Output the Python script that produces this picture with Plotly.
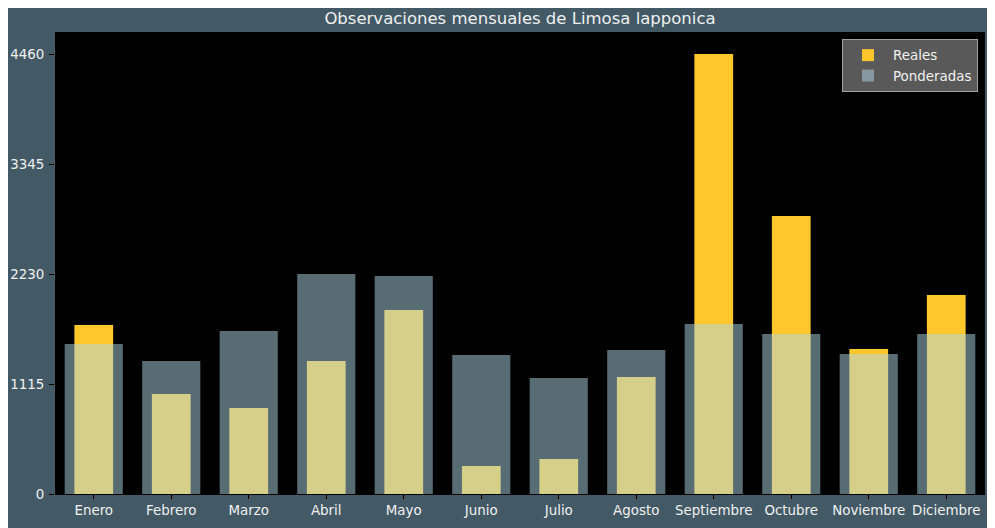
import plotly.graph_objects as go

meses = ["Enero", "Febrero", "Marzo", "Abril", "Mayo", "Junio", "Julio",
         "Agosto", "Septiembre", "Octubre", "Noviembre", "Diciembre"]
reales = [1713, 1014, 872, 1348, 1865, 284, 355, 1186, 4460, 2818, 1470, 2017]
ponderadas = [1521, 1348, 1652, 2230, 2210, 1409, 1176, 1460, 1723, 1622, 1419, 1622]
ticks_y = [0, 1115, 2230, 3345, 4460]

fig = go.Figure()
fig.add_trace(go.Bar(x=meses, y=reales, name="Reales", width=0.5,
                     marker=dict(color="#ffc72c", line=dict(width=0))))
fig.add_trace(go.Bar(x=meses, y=ponderadas, name="Ponderadas", width=0.75,
                     marker=dict(color="rgba(173,216,230,0.5)", line=dict(width=0))))

fig.update_layout(
    width=987, height=520,
    barmode="overlay",
    paper_bgcolor="#435a66",
    plot_bgcolor="#000000",
    margin=dict(l=47, r=10, t=24, b=34, autoexpand=False),
    font=dict(family="DejaVu Sans", size=13.4, color="#f0f0f0"),
    title=dict(text="Observaciones mensuales de Limosa lapponica",
               xref="paper", x=0.5, xanchor="center", y=0.98, yanchor="middle",
               font=dict(size=16.5, color="#f0f0f0")),
    legend=dict(x=0.9925, y=0.985, xanchor="right", yanchor="top",
                bgcolor="#595959", bordercolor="#a0a0a0", borderwidth=1,
                itemwidth=40,
                font=dict(size=13.4, color="#f0f0f0")),
    showlegend=True,
)
fig.update_xaxes(range=[-0.5, 11.5], showgrid=False, ticks="outside", ticklen=4,
                 tickcolor="#000000", showline=True, linecolor="#000000",
                 zeroline=False, automargin=False)
fig.update_yaxes(range=[0, 4683], tickvals=ticks_y, ticktext=[str(t) for t in ticks_y],
                 showgrid=False, ticks="outside", ticklen=5, tickcolor="#000000",
                 showline=False, zeroline=False, automargin=False,
                 ticklabelstandoff=2)

fig.write_html("out.html")
